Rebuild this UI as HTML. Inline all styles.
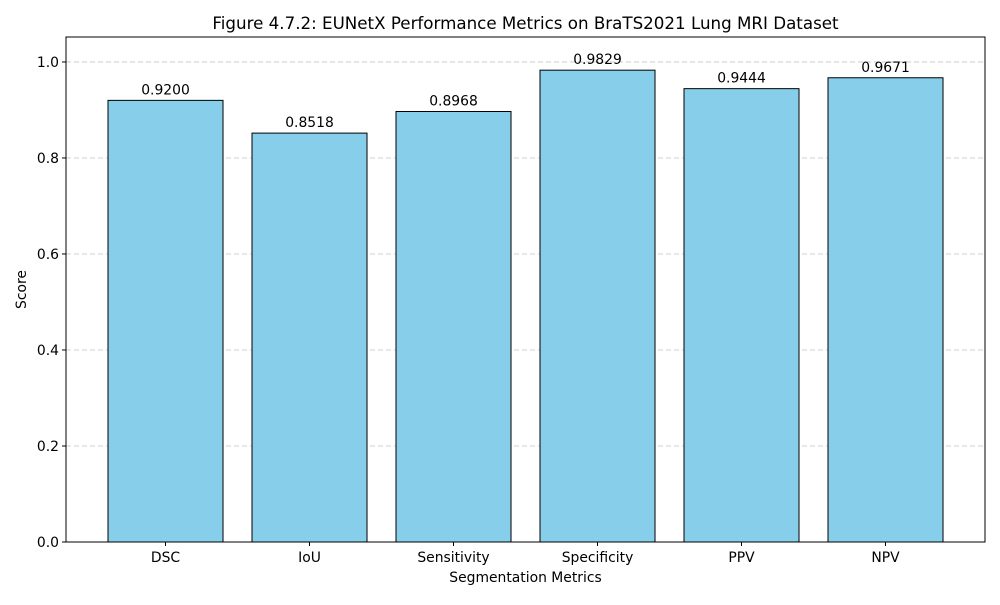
<!DOCTYPE html>
<html><head><meta charset="utf-8"><style>
body{margin:0;background:#fff;font-family:"Liberation Sans","DejaVu Sans",sans-serif}
svg text{font-family:"DejaVu Sans","Liberation Sans",sans-serif}
</style></head><body>
<svg id="chart" width="1000" height="600" xmlns="http://www.w3.org/2000/svg">
<rect width="1000" height="600" fill="#fff"/>
<text x="525.5" y="29" text-anchor="middle" font-size="16.7">Figure 4.7.2: EUNetX Performance Metrics on BraTS2021 Lung MRI Dataset</text>
<g id="grid"></g><g id="bars"></g><g id="labels"></g><g id="axes"></g>
<text x="525.5" y="582" text-anchor="middle" font-size="13.9">Segmentation Metrics</text>
<text transform="translate(26,289.5) rotate(-90)" text-anchor="middle" font-size="13.9">Score</text>
</svg>
<script>
const categories=["DSC","IoU","Sensitivity","Specificity","PPV","NPV"];
const values=[0.9200,0.8518,0.8968,0.9829,0.9444,0.9671];
const yTicks=[0,0.2,0.4,0.6,0.8,1.0];
const L=66,R=985,T=37,B=542;
const yMax=1.052;
const y=v=>B-(v/yMax)*(B-T);
const x=i=>L+(i+0.691)*144;
const bw=115;
const ns="http://www.w3.org/2000/svg";
function mk(tag,attrs,parent,txt){const e=document.createElementNS(ns,tag);for(const k in attrs)e.setAttribute(k,attrs[k]);if(txt!==undefined)e.textContent=txt;document.getElementById(parent).appendChild(e);return e;}
yTicks.forEach(t=>{
  if(t>0){const g=mk('line',{x1:L,x2:R,y1:y(t),y2:y(t),stroke:'#c4c4c4','stroke-dasharray':'5,3','stroke-width':0.8},'grid');
  
  }
  const tk=mk('line',{x1:L-4,x2:L,y1:y(t),y2:y(t),stroke:'#000'},'axes');
  
  
  const lb=mk('text',{x:L-7,y:y(t)+5,'text-anchor':'end','font-size':13.9},'axes',t.toFixed(1));
  
  
});
categories.forEach((c,i)=>{
  const cx=x(i);
  const r=mk('rect',{x:cx-bw/2,y:y(values[i]),width:bw,height:B-y(values[i]),fill:'#87ceeb',stroke:'#000','stroke-width':1},'bars');
  
  
  const v=mk('text',{x:cx,y:y(values[i])-6,'text-anchor':'middle','font-size':13.9},'labels',values[i].toFixed(4));
  
  
  const tk=mk('line',{x1:cx,x2:cx,y1:B,y2:B+4,stroke:'#000'},'axes');
  
  
  const lb=mk('text',{x:cx,y:B+20,'text-anchor':'middle','font-size':13.9},'axes',c);
  
  
});
const fr=mk('rect',{x:L,y:T,width:R-L,height:B-T,fill:'none',stroke:'#000','stroke-width':1},'axes');


</script>
</body></html>
